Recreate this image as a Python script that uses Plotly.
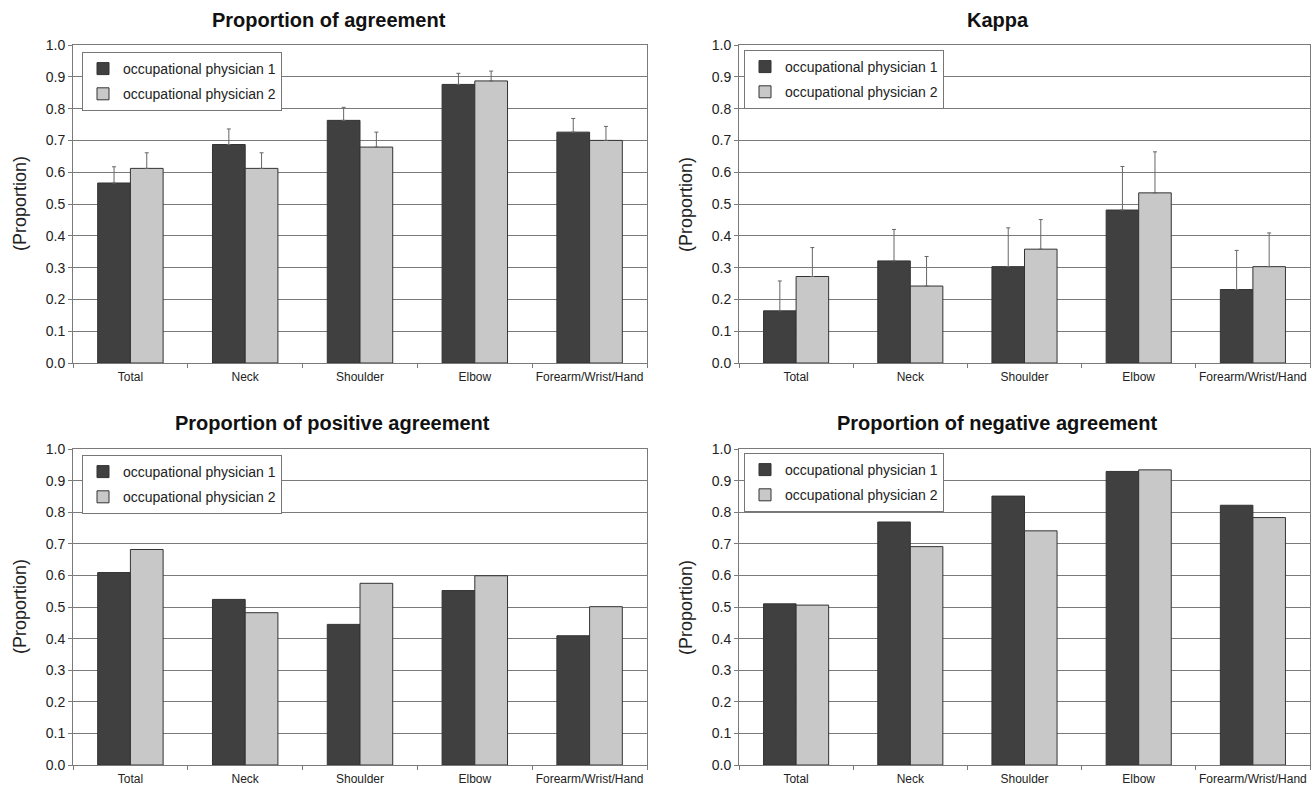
import plotly.graph_objects as go

categories = ["Total", "Neck", "Shoulder", "Elbow", "Forearm/Wrist/Hand"]
series_names = ["occupational physician 1", "occupational physician 2"]

agree_op1 = [0.566, 0.687, 0.763, 0.876, 0.726]
agree_op2 = [0.612, 0.612, 0.679, 0.887, 0.700]
agree_err_op1 = [0.051, 0.049, 0.041, 0.035, 0.043]
agree_err_op2 = [0.049, 0.049, 0.047, 0.031, 0.044]

kappa_op1 = [0.164, 0.321, 0.303, 0.481, 0.231]
kappa_op2 = [0.272, 0.242, 0.358, 0.535, 0.303]
kappa_err_op1 = [0.094, 0.099, 0.122, 0.137, 0.123]
kappa_err_op2 = [0.091, 0.093, 0.093, 0.129, 0.106]

pos_op1 = [0.609, 0.524, 0.445, 0.552, 0.409]
pos_op2 = [0.682, 0.482, 0.575, 0.599, 0.501]

neg_op1 = [0.510, 0.769, 0.851, 0.929, 0.822]
neg_op2 = [0.506, 0.691, 0.741, 0.934, 0.783]

titles = ["Proportion of agreement", "Kappa",
          "Proportion of positive agreement", "Proportion of negative agreement"]
y_title = "(Proportion)"
y_tick_vals = [0.0, 0.1, 0.2, 0.3, 0.4, 0.5, 0.6, 0.7, 0.8, 0.9, 1.0]

W, H = 1315, 787
DARK = "#404040"
LIGHT = "#c8c8c8"
GRID = "#7a7a7a"
FONT = "Liberation Sans, Arial, sans-serif"

# panel pixel boxes: (left, right, top, bottom)
panels = [(73, 647, 45, 363), (739, 1310, 45, 363),
          (73, 647, 449, 765), (739, 1310, 449, 765)]
title_pos = [(329, 20), (998, 20), (332, 423), (997, 423)]
ytitle_x = [20, 686]
legend_pos = [(82, 52), (744, 50), (82, 455), (744, 453)]

data_sets = [
    (agree_op1, agree_op2, agree_err_op1, agree_err_op2),
    (kappa_op1, kappa_op2, kappa_err_op1, kappa_err_op2),
    (pos_op1, pos_op2, None, None),
    (neg_op1, neg_op2, None, None),
]

fig = go.Figure()
for i, (v1, v2, e1, e2) in enumerate(data_sets):
    n = i + 1
    xa = "x" if n == 1 else f"x{n}"
    ya = "y" if n == 1 else f"y{n}"
    lg = "legend" if n == 1 else f"legend{n}"
    for name, vals, err, col in [(series_names[0], v1, e1, DARK),
                                 (series_names[1], v2, e2, LIGHT)]:
        kw = {}
        if err is not None:
            kw["error_y"] = dict(type="data", array=err, arrayminus=[0] * len(err),
                                 symmetric=False, color="#666666", thickness=1, width=2)
        fig.add_trace(go.Bar(
            x=categories, y=vals, name=name, xaxis=xa, yaxis=ya, legend=lg,
            legendgroup=f"{n}-{name}",
            marker=dict(color=col, line=dict(color="#333333", width=1)),
            **kw))

layout = dict(
    width=W, height=H, margin=dict(l=0, r=0, t=0, b=0),
    paper_bgcolor="white", plot_bgcolor="white",
    barmode="group", bargap=0.43, bargroupgap=0.0,
    font=dict(family=FONT, color="#222222"),
    showlegend=True,
)
annotations = []
for i, (l, r, t, b) in enumerate(panels):
    n = i + 1
    sx = "" if n == 1 else str(n)
    layout[f"xaxis{sx}"] = dict(
        domain=[l / W, r / W], anchor=f"y{sx}",
        showline=True, linecolor=GRID, linewidth=1, mirror=True,
        ticks="outside", tickson="boundaries", ticklen=4, tickcolor=GRID,
        tickangle=0, ticklabelstandoff=3,
        tickfont=dict(size=12, family=FONT, color="#222222"),
        showgrid=False, automargin=False, fixedrange=True,
    )
    layout[f"yaxis{sx}"] = dict(
        domain=[1 - b / H, 1 - t / H], anchor=f"x{sx}",
        range=[0, 1], tickvals=y_tick_vals, tickformat=".1f",
        showline=True, linecolor=GRID, linewidth=1, mirror=True,
        ticks="outside", ticklen=4, tickcolor=GRID,
        showgrid=True, gridcolor=GRID, gridwidth=1,
        tickfont=dict(size=14, family=FONT, color="#222222"),
        automargin=False, fixedrange=True, zeroline=False,
    )
    lx, ly = legend_pos[i]
    layout["legend" if n == 1 else f"legend{n}"] = dict(
        x=lx / W, y=1 - ly / H, xanchor="left", yanchor="top",
        bgcolor="white", bordercolor="#777777", borderwidth=1,
        font=dict(size=14, family=FONT, color="#222222"),
        tracegroupgap=4, itemwidth=30,
    )
    tx, ty = title_pos[i]
    annotations.append(dict(
        text=f"<b>{titles[i]}</b>", x=tx / W, y=1 - ty / H, xref="paper", yref="paper",
        xanchor="center", yanchor="middle", showarrow=False,
        font=dict(size=20, family=FONT, color="#111111")))
    annotations.append(dict(
        text=y_title, x=ytitle_x[i % 2] / W, y=1 - ((t + b) / 2) / H,
        xref="paper", yref="paper", xanchor="center", yanchor="middle",
        textangle=-90, showarrow=False,
        font=dict(size=18, family=FONT, color="#222222")))
layout["annotations"] = annotations
fig.update_layout(**layout)

fig.write_html("out.html", config={"displayModeBar": False},
               post_script="document.body.style.margin='0';document.body.style.overflow='hidden';")
